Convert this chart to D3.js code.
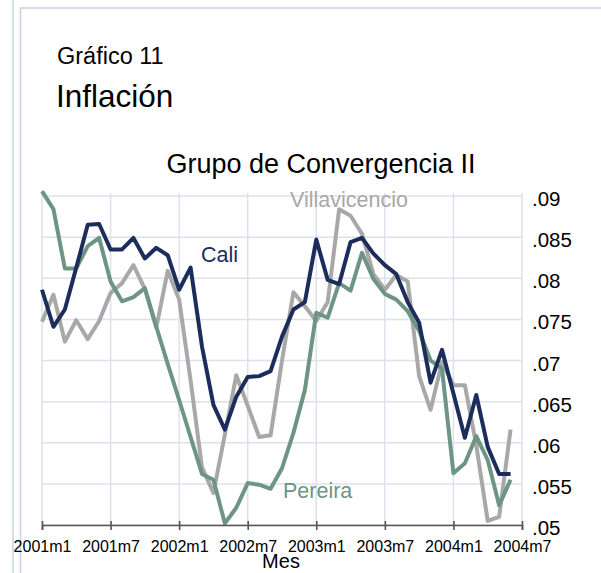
<!DOCTYPE html>
<html>
<head>
<meta charset="utf-8">
<script src="https://cdn.jsdelivr.net/npm/d3@7"></script>
<style>
    body { margin: 0; background: #fff; }
    svg text { font-family: Arial, "Liberation Sans", sans-serif; }
    .grid line { stroke: #dde1ee; stroke-width: 1.5; }
    .series { fill: none; stroke-width: 4; stroke-linejoin: round; }
</style>
</head>
<body>
<div id="chart"></div>
<script>

// monthly values, 2001m1 .. 2004m6
var cali = [0.0786, 0.0741, 0.0762, 0.0813, 0.0865, 0.0866, 0.0835, 0.0835, 0.0849, 0.0824,
    0.0837, 0.0828, 0.0786, 0.0813, 0.0717, 0.0646, 0.0616, 0.0656, 0.0680, 0.0681,
    0.0687, 0.0729, 0.0762, 0.0771, 0.0847, 0.0798, 0.0793, 0.0844, 0.0849, 0.0830,
    0.0816, 0.0805, 0.0771, 0.0746, 0.0673, 0.0713, 0.0660, 0.0606, 0.0658, 0.0595,
    0.0562, 0.0562];

var pereira = [0.0906, 0.0884, 0.0812, 0.0812, 0.0839, 0.0849, 0.0796, 0.0772, 0.0777, 0.0788,
    0.0741, 0.0696, 0.0652, 0.0607, 0.0562, 0.0555, 0.0502, 0.0521, 0.0551, 0.0549,
    0.0544, 0.0569, 0.0612, 0.0664, 0.0758, 0.0752, 0.0794, 0.0785, 0.0831, 0.0799,
    0.0781, 0.0774, 0.0760, 0.0736, 0.0700, 0.0690, 0.0563, 0.0575, 0.0608, 0.0579,
    0.0524, 0.0555];

var villavicencio = [0.0747, 0.0780, 0.0723, 0.0749, 0.0726, 0.0748, 0.0782, 0.0794, 0.0816, 0.0787,
    0.0740, 0.0809, 0.0774, 0.0676, 0.0570, 0.0539, 0.0610, 0.0682, 0.0645, 0.0607,
    0.0609, 0.0700, 0.0783, 0.0766, 0.0748, 0.0771, 0.0884, 0.0876, 0.0854, 0.0805,
    0.0786, 0.0804, 0.0796, 0.0681, 0.0640, 0.0698, 0.0670, 0.0670, 0.0597, 0.0505,
    0.0510, 0.0616];

var xTickMonths = [0, 6, 12, 18, 24, 30, 36, 42];
var xTickLabels = ["2001m1", "2001m7", "2002m1", "2002m7", "2003m1", "2003m7", "2004m1", "2004m7"];
var yTicks = [0.05, 0.055, 0.06, 0.065, 0.07, 0.075, 0.08, 0.085, 0.09];
var yTickLabels = [".05", ".055", ".06", ".065", ".07", ".075", ".08", ".085", ".09"];

var seriesNames = ["Villavicencio", "Pereira", "Cali"];
var seriesColors = { "Cali": "#1c2c5b", "Pereira": "#6e9583", "Villavicencio": "#a8a8a8" };


var svg = d3.select("#chart")
    .append("svg")
    .attr("width", 601)
    .attr("height", 573);

// frame lines of the page
svg.append("line")
    .attr("x1", 13).attr("y1", 0).attr("x2", 13).attr("y2", 573)
    .attr("stroke", "#c6d4e3").attr("stroke-width", 1.5);
svg.append("path")
    .attr("d", "M20.5 573 L20.5 8 L601 8")
    .attr("fill", "none")
    .attr("stroke", "#c6d4e3").attr("stroke-width", 1.5);

// titles
svg.append("text")
    .attr("x", 57).attr("y", 64)
    .attr("font-size", 23.5)
    .text("Gráfico 11");
svg.append("text")
    .attr("x", 56).attr("y", 107)
    .attr("font-size", 31.5)
    .text("Inflación");
svg.append("text")
    .attr("x", 321).attr("y", 173)
    .attr("font-size", 27)
    .attr("text-anchor", "middle")
    .text("Grupo de Convergencia II");

var x = d3.scaleLinear()
    .domain([0, 42])
    .range([42, 522]);

var y = d3.scaleLinear()
    .domain([0.05, 0.09])
    .range([525, 196]);

// grid
var grid = svg.append("g").attr("class", "grid");
grid.selectAll(".hgrid")
    .data(yTicks)
    .enter()
    .append("line")
    .attr("x1", x(0)).attr("x2", x(42))
    .attr("y1", function(d) { return y(d); })
    .attr("y2", function(d) { return y(d); });
grid.selectAll(".vgrid")
    .data(xTickMonths)
    .enter()
    .append("line")
    .attr("x1", function(d) { return x(d); })
    .attr("x2", function(d) { return x(d); })
    .attr("y1", y(0.09) - 3).attr("y2", y(0.05));

// lines
var line = d3.line()
    .x(function(d, i) { return x(i); })
    .y(function(d) { return y(d); });

var seriesData = { "Cali": cali, "Pereira": pereira, "Villavicencio": villavicencio };

svg.selectAll(".series")
    .data(seriesNames)
    .enter()
    .append("path")
    .attr("class", "series")
    .attr("stroke", function(d) { return seriesColors[d]; })
    .attr("d", function(d) { return line(seriesData[d]); });

// x axis
var xAxis = d3.axisBottom(x)
    .tickValues(xTickMonths)
    .tickSize(5)
    .tickFormat(function(d, i) { return xTickLabels[i]; });

var gx = svg.append("g")
    .attr("transform", "translate(0," + y(0.05) + ")")
    .call(xAxis);
gx.select(".domain").attr("stroke", "#555").attr("stroke-width", 1.6);
gx.selectAll(".tick line")
    .attr("stroke", "#555").attr("stroke-width", 1.6)
    .attr("y1", -4).attr("y2", 5);
gx.selectAll(".tick text")
    .attr("y", 16)
    .attr("dy", "0.71em")
    .attr("font-size", 16)
    .attr("fill", "#000")
    .attr("font-family", "Arial, 'Liberation Sans', sans-serif");

// y axis on the right, labels only
svg.selectAll(".ylabel")
    .data(yTicks)
    .enter()
    .append("text")
    .attr("class", "ylabel")
    .attr("x", 532)
    .attr("y", function(d) { return y(d) + 10; })
    .attr("font-size", 20.5)
    .text(function(d, i) { return yTickLabels[i]; });

svg.append("text")
    .attr("x", 281).attr("y", 568)
    .attr("font-size", 20)
    .attr("text-anchor", "middle")
    .text("Mes");

// series labels
svg.append("text")
    .attr("x", 201).attr("y", 262)
    .attr("font-size", 21.5)
    .attr("fill", seriesColors["Cali"])
    .text("Cali");
svg.append("text")
    .attr("x", 290).attr("y", 207)
    .attr("font-size", 21.5)
    .attr("fill", seriesColors["Villavicencio"])
    .text("Villavicencio");
svg.append("text")
    .attr("x", 283).attr("y", 498)
    .attr("font-size", 21.5)
    .attr("fill", seriesColors["Pereira"])
    .text("Pereira");

</script>
</body>
</html>
